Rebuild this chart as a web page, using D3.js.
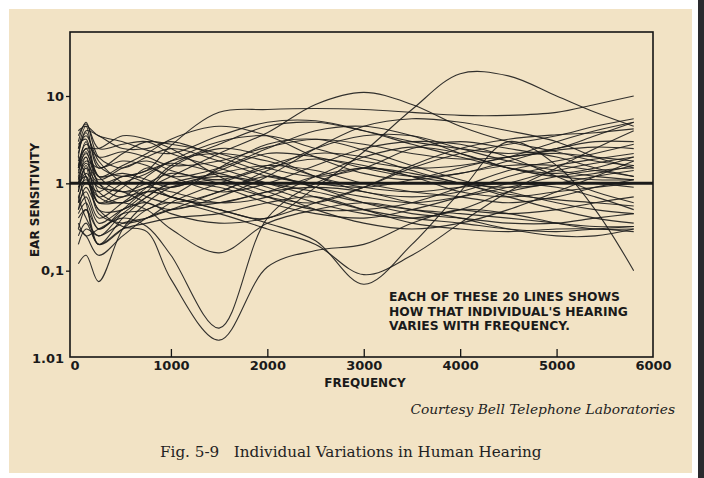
<!DOCTYPE html>
<html><head><meta charset="utf-8">
<script src="https://cdn.jsdelivr.net/npm/d3@7"></script>
<style>html,body{margin:0;padding:0;background:#fff;}svg{display:block;}</style>
</head><body>
<script>
// ---- data (ear sensitivity vs frequency) ----
const freqs = [40, 120, 250, 500, 750, 1000, 1500, 2000, 2500, 3000, 3500, 4000, 4500, 5000, 5400, 5800];
const xTicks = [0, 1000, 2000, 3000, 4000, 5000, 6000];
const yTicks = [10, 1, 0.1, 0.01];
const yTickLabels = ["10", "1", "0,1", "1.01"];
const reference = [1, 1]; // the heavy "normal" line
const referenceFreqs = [-50, 6000];

const s01 = [0.5, 0.9, 0.5, 0.32, 0.28, 0.08, 0.016, 0.11, 0.17, 0.2, 0.35, 0.5, 0.45, 0.35, 0.3, 0.3];
const s02 = [0.35, 0.25, 0.3, 0.4, 0.32, 0.15, 0.022, 0.4, 1.0, 1.5, 1.2, 0.8, 0.7, 0.8, 0.9, 1.0];
const s03 = [0.8, 1.6, 0.7, 0.6, 0.8, 0.7, 0.5, 0.4, 0.9, 2.3, 7, 18, 17, 10, 6.5, 4.5];
const s04 = [1.5, 2.5, 1.2, 0.8, 0.9, 1.2, 2.2, 3.8, 8, 11, 8, 4.5, 3, 2.3, 1.8, 1.6];
const s05 = [1.0, 1.5, 1.0, 1.2, 1.4, 2.7, 6.5, 7, 7.2, 7, 6.5, 6, 6, 6.5, 8, 10];
const s06 = [0.3, 0.5, 0.3, 0.5, 0.8, 0.7, 0.5, 0.35, 0.22, 0.07, 0.2, 0.8, 3, 1.6, 0.5, 0.1];
const s07 = [1.2, 0.6, 0.2, 0.3, 0.5, 0.6, 0.45, 0.3, 0.2, 0.09, 0.15, 0.35, 0.8, 1.5, 2.5, 4];
const s08 = [2, 1.2, 0.6, 0.6, 0.5, 0.3, 0.16, 0.35, 0.5, 0.6, 0.5, 0.4, 0.3, 0.25, 0.25, 0.3];
const s09 = [0.12, 0.15, 0.075, 0.3, 0.6, 0.9, 1.2, 1.0, 0.8, 0.6, 0.5, 0.45, 0.4, 0.35, 0.32, 0.32];
const s10 = [3, 5, 2, 1.5, 2, 2.5, 1.8, 1.2, 1.0, 0.9, 1.1, 1.5, 2, 2.2, 2, 1.8];
const s11 = [2.5, 4.5, 1.5, 2.2, 3, 2.8, 2.2, 1.5, 1.2, 1.5, 2.5, 3, 2.5, 2, 1.5, 1.2];
const s12 = [2, 4, 3.5, 2.5, 2.5, 3, 2, 1.3, 0.9, 0.7, 0.6, 0.7, 0.9, 1.2, 1.4, 1.5];
const s13 = [1.5, 3, 1, 0.7, 1.2, 1.8, 3, 3.5, 2.5, 1.8, 1.5, 1.6, 2, 3, 4, 5];
const s14 = [1, 2, 0.6, 0.9, 1.5, 1.2, 0.8, 1, 1.6, 2.5, 3, 2.8, 2, 1.2, 0.8, 0.6];
const s15 = [0.8, 1.5, 0.5, 0.5, 0.8, 1.5, 2.5, 2, 1.2, 0.8, 0.7, 0.8, 1.2, 1.6, 1.9, 2.2];
const s16 = [0.6, 0.8, 0.4, 0.6, 0.9, 0.8, 0.6, 0.7, 1.2, 2, 2.6, 2.2, 1.5, 1.2, 1.1, 1.1];
const s17 = [0.4, 0.5, 0.2, 0.4, 0.7, 1.0, 1.3, 1.6, 1.4, 1.0, 0.8, 0.7, 0.6, 0.7, 0.9, 1.1];
const s18 = [0.3, 0.25, 0.15, 0.25, 0.4, 0.5, 0.6, 0.8, 1.2, 1.5, 1.3, 1.0, 0.7, 0.5, 0.4, 0.35];
const s19 = [2.5, 3.5, 1.8, 1.0, 0.7, 0.6, 0.8, 1.4, 2.5, 3.5, 3.5, 2.5, 1.8, 1.4, 1.2, 1.1];
const s20 = [1.8, 2.5, 2.5, 3.5, 3.2, 2.5, 1.2, 0.7, 0.5, 0.5, 0.6, 0.9, 1.4, 1.8, 2.2, 2.8];
const s21 = [1.2, 1.8, 1.5, 1.8, 1.6, 1.2, 1.5, 2.5, 4, 4.5, 3.5, 2.2, 1.5, 1.2, 1.3, 1.6];
const s22 = [0.7, 1.0, 0.8, 1.2, 1.0, 0.7, 0.6, 0.8, 0.9, 0.8, 0.6, 0.5, 0.45, 0.5, 0.6, 0.7];
const s23 = [0.5, 0.7, 0.35, 0.5, 0.6, 0.45, 0.35, 0.4, 0.6, 0.9, 1.5, 2.2, 2.8, 3.5, 4.5, 5.5];
const s24 = [1.5, 2.2, 1.2, 1.3, 1.1, 0.9, 1.4, 2.2, 2.0, 1.5, 1.2, 1.3, 1.8, 2.5, 3, 3];
const s25 = [3.5, 4.8, 2.5, 2.8, 3.0, 2.2, 1.5, 1.0, 0.7, 0.5, 0.4, 0.35, 0.3, 0.28, 0.3, 0.32];
const s26 = [0.9, 1.3, 0.9, 0.8, 0.6, 0.5, 0.7, 1.2, 2.5, 4.5, 5.5, 5, 4, 3, 2, 1.5];
const s27 = [1.4, 2.0, 0.8, 0.6, 0.9, 1.6, 2.8, 4.5, 5, 4, 3, 2.5, 2.2, 2.5, 3.5, 5];
const s28 = [0.2, 0.3, 0.25, 0.35, 0.4, 0.5, 0.8, 1.2, 0.9, 0.6, 0.45, 0.4, 0.35, 0.35, 0.4, 0.45];
const s29 = [2.2, 3.8, 1.6, 1.2, 1.4, 1.7, 1.3, 0.9, 0.6, 0.45, 0.4, 0.5, 0.8, 1.0, 1.0, 0.9];
const s30 = [1.0, 1.2, 0.45, 0.35, 0.4, 0.6, 1.0, 1.5, 1.9, 1.6, 1.2, 1.0, 0.9, 1.0, 1.2, 1.4];
const s31 = [0.25, 0.35, 0.2, 0.3, 0.35, 0.4, 0.45, 0.6, 0.7, 0.5, 0.35, 0.3, 0.28, 0.3, 0.3, 0.28];
const s32 = [1.6, 2.8, 2.0, 2.3, 2.0, 1.6, 1.8, 2.6, 3.2, 2.8, 2.2, 1.9, 2.0, 2.4, 2.6, 2.5];
const s33 = [0.9, 1.1, 0.7, 1.0, 1.3, 1.8, 2.2, 1.8, 1.2, 0.9, 0.8, 0.9, 1.0, 0.9, 0.7, 0.5];
const s34 = [0.6, 1.2, 0.6, 0.7, 0.8, 0.9, 1.1, 0.8, 0.5, 0.35, 0.3, 0.35, 0.5, 0.8, 1.2, 1.8];
const s35 = [4, 4.5, 3.5, 3, 2.4, 2.2, 3.5, 5, 5.2, 4, 2.8, 2.0, 1.5, 1.3, 1.5, 2];
const s36 = [0.7, 0.4, 0.25, 0.45, 0.7, 1.0, 0.9, 0.6, 0.45, 0.4, 0.5, 0.7, 1.0, 1.4, 1.7, 2.0];
const s37 = [2.8, 3.2, 1.2, 1.6, 2.2, 3.2, 4.5, 3.5, 2.0, 1.3, 1.1, 1.3, 1.6, 1.6, 1.4, 1.2];
const s38 = [1.1, 1.7, 1.1, 1.5, 1.8, 1.4, 1.0, 0.7, 0.6, 0.9, 1.6, 2.5, 3.2, 3.6, 3.8, 4.2];
const s39 = [0.45, 0.6, 0.3, 0.45, 0.5, 0.7, 1.5, 2.8, 3.2, 2.4, 1.6, 1.1, 0.8, 0.6, 0.5, 0.45];
const s40 = [1.3, 2.3, 1.0, 0.8, 1.0, 1.3, 1.1, 1.6, 2.2, 2.0, 1.4, 1.0, 0.75, 0.65, 0.6, 0.55];
const seriesList = [s01,s02,s03,s04,s05,s06,s07,s08,s09,s10,s11,s12,s13,s14,s15,s16,s17,s18,s19,s20,
                    s21,s22,s23,s24,s25,s26,s27,s28,s29,s30,s31,s32,s33,s34,s35,s36,s37,s38,s39,s40];

const noteLines = ["EACH OF THESE 20 LINES SHOWS", "HOW THAT INDIVIDUAL'S HEARING", "VARIES WITH FREQUENCY."];

// ---- drawing ----
const W = 704, H = 478;
const frame = {left: 70, right: 653, top: 32, bottom: 357};
const svg = d3.select("body").append("svg").attr("width", W).attr("height", H);

svg.append("rect").attr("width", W).attr("height", H).attr("fill", "#ffffff");
svg.append("rect").attr("x", 9).attr("y", 9).attr("width", 683).attr("height", 464).attr("fill", "#f2e3c5");
svg.append("rect").attr("x", 698).attr("y", 0).attr("width", 6).attr("height", H).attr("fill", "#2a2a2e");

const x = d3.scaleLinear().domain([0, 6000]).range([74.5, 653]);
const y = d3.scaleLog().domain([0.01, 10]).range([358, 96]);

svg.append("defs").append("clipPath").attr("id", "clip")
  .append("rect").attr("x", frame.left).attr("y", frame.top)
  .attr("width", frame.right - frame.left).attr("height", frame.bottom - frame.top);

const line = d3.line()
  .x((d, i) => x(freqs[i]))
  .y(d => y(d))
  .curve(d3.curveCatmullRom.alpha(0.5));

const g = svg.append("g").attr("clip-path", "url(#clip)");
g.selectAll("path.curve").data(seriesList).join("path")
  .attr("class", "curve")
  .attr("d", line)
  .attr("fill", "none")
  .attr("stroke", "#1c1c1c")
  .attr("stroke-opacity", 0.9)
  .attr("stroke-width", 1.1);

const refLine = d3.line().x((d, i) => x(referenceFreqs[i])).y(d => y(d));
g.append("path").attr("d", refLine(reference))
  .attr("fill", "none").attr("stroke", "#1a1a1a").attr("stroke-width", 3);

// frame
svg.append("rect").attr("x", frame.left).attr("y", frame.top)
  .attr("width", frame.right - frame.left).attr("height", frame.bottom - frame.top)
  .attr("fill", "none").attr("stroke", "#141414").attr("stroke-width", 1.6);

const axisFont = "'DejaVu Sans', sans-serif";

// x axis
const xAxis = d3.axisBottom(x).tickValues(xTicks).tickSize(-8).tickPadding(4).tickFormat(d3.format("d"));
const gx = svg.append("g").attr("transform", `translate(0,${frame.bottom})`).call(xAxis);
gx.select(".domain").remove();
gx.selectAll(".tick line").attr("stroke", "#141414").attr("stroke-width", 1.3)
  .attr("display", (d) => (d === 0 || d === 6000) ? "none" : null);
gx.selectAll(".tick text").attr("font-family", axisFont).attr("font-size", 13)
  .attr("font-weight", "bold").attr("fill", "#1a1a1a");

// y axis
const yAxis = d3.axisLeft(y).tickValues(yTicks).tickSize(4).tickPadding(2)
  .tickFormat((d, i) => yTickLabels[i]);
const gy = svg.append("g").attr("transform", `translate(${frame.left},0)`).call(yAxis);
gy.select(".domain").remove();
gy.selectAll(".tick line").attr("stroke", "#141414").attr("stroke-width", 1.3)
  .attr("display", (d) => d === 0.01 ? "none" : null);
gy.selectAll(".tick text").attr("font-family", axisFont).attr("font-size", 13)
  .attr("font-weight", "bold").attr("fill", "#1a1a1a");

// axis titles
svg.append("text").attr("x", 365).attr("y", 387).attr("text-anchor", "middle")
  .attr("font-family", axisFont).attr("font-size", 12).attr("font-weight", "bold")
  .attr("fill", "#1a1a1a").text("FREQUENCY");
svg.append("text").attr("transform", "translate(39,200) rotate(-90)").attr("text-anchor", "middle")
  .attr("font-family", axisFont).attr("font-size", 12).attr("font-weight", "bold")
  .attr("fill", "#1a1a1a").text("EAR SENSITIVITY");

// note
svg.append("g").selectAll("text").data(noteLines).join("text")
  .attr("x", 389).attr("y", (d, i) => 301 + i * 14.5)
  .attr("font-family", axisFont).attr("font-size", 12.3).attr("font-weight", "bold")
  .attr("fill", "#1a1a1a").text(d => d);

// credits and caption
svg.append("text").attr("x", 675).attr("y", 414).attr("text-anchor", "end")
  .attr("font-family", "'DejaVu Serif', serif").attr("font-style", "italic").attr("font-size", 13.8)
  .attr("fill", "#222").text("Courtesy Bell Telephone Laboratories");
svg.append("text").attr("x", 160).attr("y", 457)
  .attr("font-family", "'DejaVu Serif', serif").attr("font-size", 15.2)
  .attr("fill", "#222").attr("xml:space", "preserve").text("Fig. 5-9   Individual Variations in Human Hearing");
</script>
</body></html>
